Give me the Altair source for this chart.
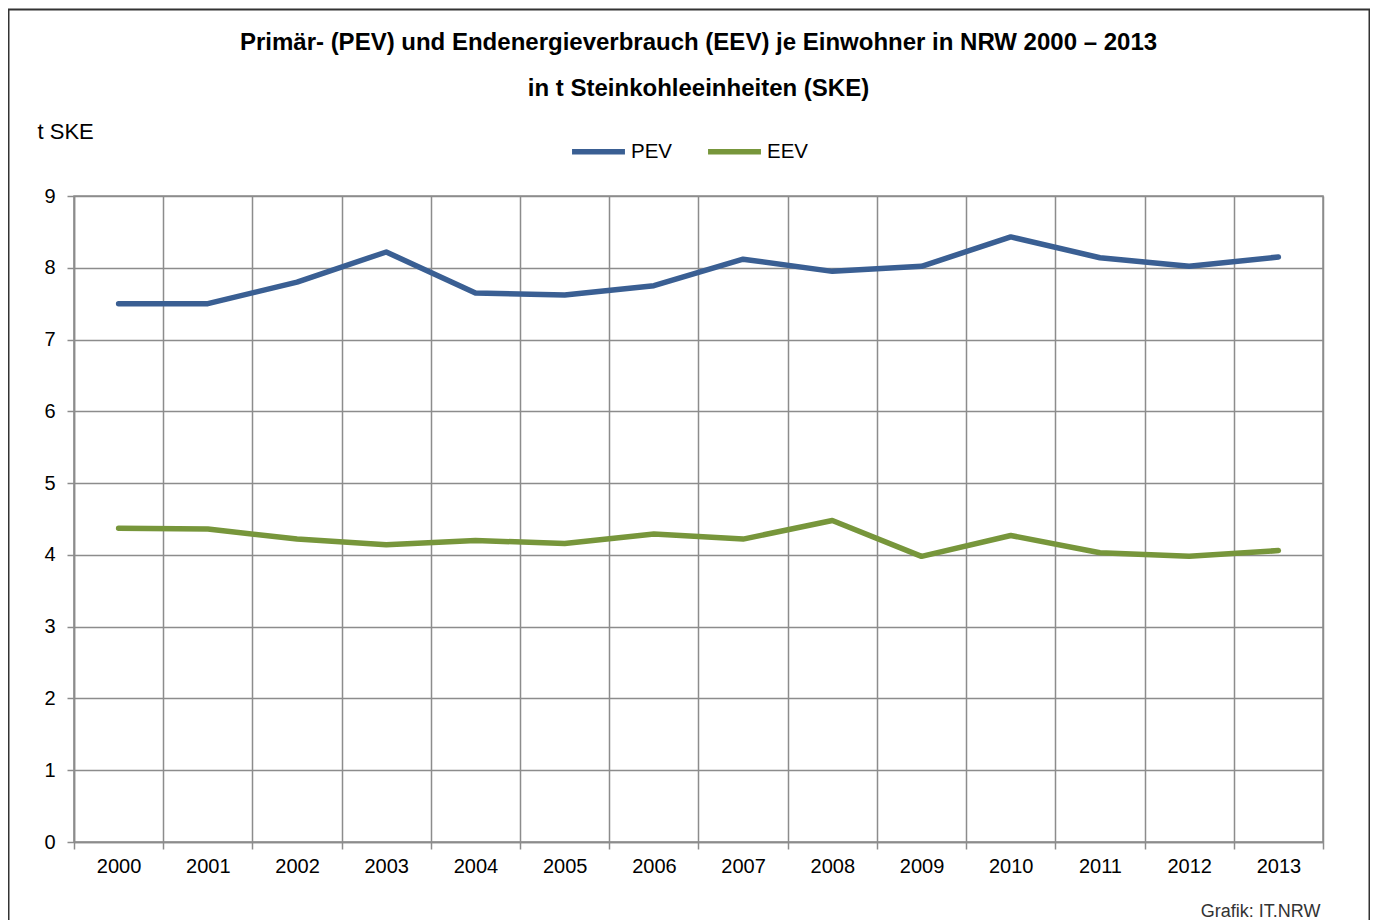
import altair as alt
import pandas as pd

years = ["2000", "2001", "2002", "2003", "2004", "2005", "2006",
         "2007", "2008", "2009", "2010", "2011", "2012", "2013"]
pev = [7.50, 7.50, 7.80, 8.22, 7.65, 7.62, 7.75, 8.12, 7.95, 8.02, 8.43, 8.14, 8.02, 8.15]
eev = [4.37, 4.36, 4.22, 4.14, 4.20, 4.16, 4.29, 4.22, 4.48, 3.98, 4.27, 4.03, 3.98, 4.06]
series = ["PEV", "EEV"]
colors = ["#3A5F93", "#77963B"]
y_ticks = [0, 1, 2, 3, 4, 5, 6, 7, 8, 9]

rows = []
for name, vals in zip(series, [pev, eev]):
    for yr, v in zip(years, vals):
        rows.append({"Jahr": yr, "Wert": v, "Reihe": name})
df = pd.DataFrame(rows)

W, H = 1249, 646
FONT = "Liberation Sans"
GRID = "#8c8c8c"

lines = alt.Chart(df).mark_line(strokeWidth=5.5, strokeCap="round", strokeJoin="round").encode(
    x=alt.X("Jahr:N", sort=years,
            scale=alt.Scale(paddingInner=0, paddingOuter=0),
            axis=alt.Axis(tickBand="extent", labelAngle=0,
                          labelFontSize=20, labelColor="#000", labelPadding=7,
                          labelOverlap=False,
                          grid=True, gridColor=GRID, gridWidth=1.5,
                          tickColor=GRID, tickWidth=1.5, tickSize=7,
                          domainColor=GRID, domainWidth=1.5,
                          title="Grafik: IT.NRW", titleFontSize=18, titleFontWeight="normal",
                          titleColor="#333", titleAlign="right", titleBaseline="alphabetic",
                          titleX=W - 3, titleY=74)),
    y=alt.Y("Wert:Q", scale=alt.Scale(domain=[0, 9], nice=False, zero=True),
            axis=alt.Axis(values=y_ticks, format="d", labelFontSize=20, labelColor="#000",
                          labelPadding=12,
                          grid=True, gridColor=GRID, gridWidth=1.5,
                          tickColor=GRID, tickWidth=1.5, tickSize=7,
                          domainColor=GRID, domainWidth=1.5,
                          title="t SKE", titleAngle=0, titleFontSize=22, titleFontWeight="normal",
                          titleColor="#000", titleAlign="left", titleBaseline="alphabetic",
                          titleX=-37, titleY=-58)),
    color=alt.Color("Reihe:N", sort=series,
                    scale=alt.Scale(domain=series, range=colors),
                    legend=alt.Legend(orient="none", legendX=495, legendY=-74,
                                      direction="horizontal", title=None,
                                      symbolType="stroke", symbolSize=2800,
                                      symbolStrokeWidth=5.5, labelFontSize=20.5,
                                      labelColor="#000", labelOffset=3,
                                      columnPadding=24, padding=0)),
)

frame = alt.Chart(alt.Data(values=[{"f": 1}])).mark_rect(
    fillOpacity=0, stroke="#333", strokeWidth=2
).encode(
    x=alt.value(-65.5), x2=alt.value(1295.5),
    y=alt.value(-186.5), y2=alt.value(760),
)

chart = alt.layer(lines, frame).properties(
    width=W, height=H,
    autosize=alt.AutoSizeParams(type="none"),
    padding={"left": 66, "top": 188, "right": 47, "bottom": 78},
    title=alt.TitleParams(
        text=["Primär- (PEV) und Endenergieverbrauch (EEV) je Einwohner in NRW 2000 – 2013",
              "in t Steinkohleeinheiten (SKE)"],
        fontSize=24, fontWeight="bold", color="#000", lineHeight=46,
        anchor="middle", offset=-92,
    ),
).configure(
    font=FONT,
    background="white",
).configure_view(
    stroke=GRID, strokeWidth=1.5,
)

chart.save("out.html", embed_options={"renderer": "svg", "actions": False})
